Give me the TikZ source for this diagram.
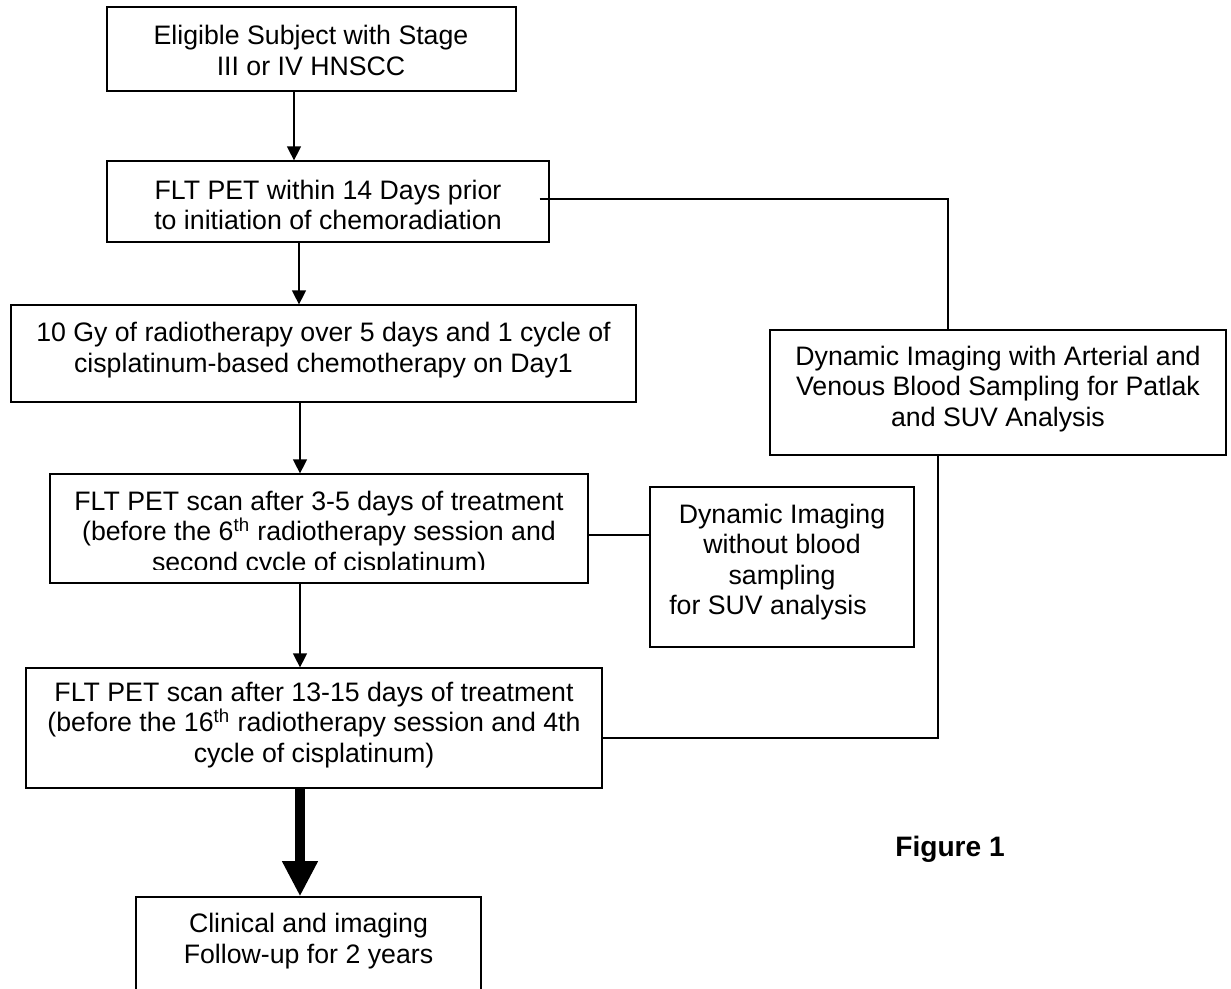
\documentclass[tikz,border=0pt]{standalone}
\usepackage{fontspec}
\setmainfont{Liberation Sans}
\usetikzlibrary{arrows.meta,fit}
\tikzset{
  box/.style={draw=black, line width=0.7pt, inner sep=0pt},
  txt/.style={align=center, inner sep=0pt, font=\fontsize{15.2pt}{17.3pt}\selectfont},
  figlabel/.style={inner sep=0pt, anchor=west, font=\fontsize{16pt}{18pt}\selectfont\bfseries},
  arr/.style={line width=0.8pt, -{Triangle[length=8pt,width=8pt]}},
  link/.style={line width=0.8pt},
  fatarr/.style={line width=6.2pt, -{Triangle[length=20pt,width=19pt]}}
}
\begin{document}
\begin{tikzpicture}[x=0.02cm,y=-0.02cm]
\clip (0,0) rectangle (1231,989);
\fill[white] (0,0) rectangle (1231,989);
% boxes
\node[box, fit={(107,7) (516,91)}] (b1) {};
\node[box, fit={(107,161) (549,242)}] (b2) {};
\node[box, fit={(11,305) (636,402)}] (b3) {};
\node[box, fit={(50,474) (588,583)}] (b4) {};
\node[box, fit={(650,487) (914,647)}] (b5) {};
\node[box, fit={(770,330) (1226,455)}] (b6) {};
\node[box, fit={(26,668) (602,788)}] (b7) {};
\node[box, fit={(136,897) (481,1010)}] (b8) {};
% texts
\node[txt] (t1) at (311,50.5) {Eligible Subject with Stage\\III or IV HNSCC};
\node[txt] (t2) at (328,205) {FLT PET within 14 Days prior\\to initiation of chemoradiation};
\node[txt] (t3) at (323.5,350) {10 Gy of radiotherapy over 5 days and 1 cycle of\\cisplatinum-based chemotherapy on Day1};
\begin{scope}
\clip (50,474) rectangle (588,570);
\node[txt] (t4) at (319,534) {FLT PET scan after 3-5 days of treatment\\(before the 6\textsuperscript{th} radiotherapy session and\\second cycle of cisplatinum)};
\end{scope}
\node[txt] (t5) at (782,562) {Dynamic Imaging\\without blood\\sampling\\for SUV analysis\hspace*{0.56cm}};
\node[txt] (t6) at (998,389) {Dynamic Imaging with Arterial and\\Venous Blood Sampling for Patlak\\and SUV Analysis};
\node[txt] (t7) at (314,725) {FLT PET scan after 13-15 days of treatment\\(before the 16\textsuperscript{th} radiotherapy session and 4th\\cycle of cisplatinum)};
\node[txt] (t8) at (308.5,941) {Clinical and imaging\\Follow-up for 2 years};
\node[figlabel] (fig) at (895,849) {Figure 1};
% arrows
\draw[arr] (294,0 |- b1.south) -- (294,0 |- b2.north);
\draw[arr] (299,0 |- b2.south) -- (299,0 |- b3.north);
\draw[arr] (300,0 |- b3.south) -- (300,0 |- b4.north);
\draw[arr] (300,0 |- b4.south) -- (300,0 |- b7.north);
\draw[fatarr] (300,0 |- b7.south) -- (300,0 |- b8.north);
% links
\coordinate (c1) at (948,199);
\draw[link] ([xshift=-0.2cm]b2.east |- c1) -- (c1) -- (c1 |- b6.north);
\coordinate (c2) at (938,738);
\draw[link] (c2 |- b6.south) -- (c2) -- (b7.east |- c2);
\coordinate (c3) at (620,535);
\draw[link] (b4.east |- c3) -- (b5.west |- c3);
\end{tikzpicture}
\end{document}
